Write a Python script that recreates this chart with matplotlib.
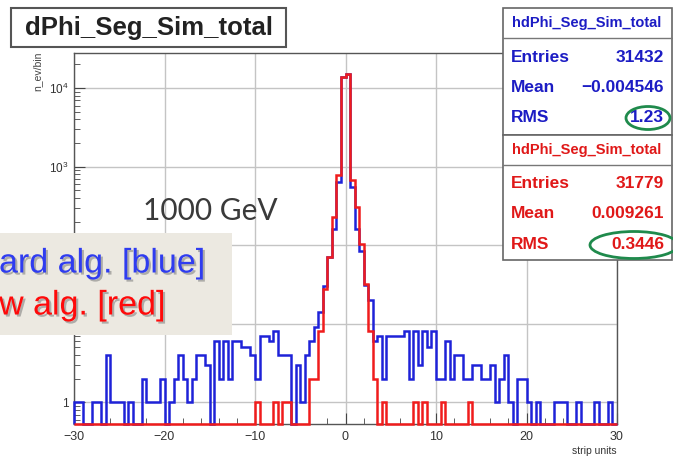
import numpy as np
import matplotlib
matplotlib.use("Agg")
import matplotlib.pyplot as plt
from matplotlib.patches import Rectangle, Ellipse
import matplotlib.patheffects as pe
from matplotlib.ticker import FixedLocator, FixedFormatter, NullFormatter

# ---- data -----------------------------------------------------------------
x_min, x_max, n_bins = -30.0, 30.0, 120

# standard algorithm (blue), counts per 0.5-strip bin from -30 to +30
blue_counts = [
    1, 1, 0, 0, 1, 1, 0, 4, 1, 1,
    1, 0, 1, 0, 0, 2, 1, 1, 1, 2,
    0, 1, 2, 4, 2, 1, 2, 4, 4, 3,
    0, 6, 2, 6, 2, 6, 6, 5, 5, 4,
    2, 7, 7, 6, 8, 4, 4, 4, 0, 3,
    1, 4, 6, 9, 14, 30, 70, 160, 640, 14000,
    15000, 550, 160, 85, 31, 20, 6, 7, 2, 7,
    7, 7, 7, 8, 2, 8, 3, 8, 5, 8,
    2, 2, 6, 2, 4, 4, 2, 2, 3, 3,
    2, 2, 3, 1, 2, 4, 1, 0, 2, 2,
    1, 0, 1, 0, 0, 0, 1, 1, 1, 0,
    0, 1, 0, 0, 0, 1, 0, 0, 1, 0,
]

# new algorithm (red)
red_counts = [
    0, 0, 0, 0, 0, 0, 0, 0, 0, 0,
    0, 0, 0, 0, 0, 0, 0, 0, 0, 0,
    0, 0, 0, 0, 0, 0, 0, 0, 0, 0,
    0, 0, 0, 0, 0, 0, 0, 0, 0, 0,
    1, 0, 0, 0, 1, 0, 1, 1, 0, 0,
    0, 0, 2, 2, 8, 28, 70, 230, 780, 14000,
    15200, 680, 310, 105, 32, 8, 2, 0, 1, 0,
    0, 0, 0, 0, 0, 1, 0, 1, 0, 0,
    0, 1, 0, 0, 0, 0, 0, 1, 0, 0,
    0, 0, 0, 0, 0, 0, 0, 0, 0, 0,
    0, 0, 0, 0, 0, 0, 0, 0, 0, 0,
    0, 0, 0, 0, 0, 0, 0, 0, 0, 0,
]

hist_name = "hdPhi_Seg_Sim_total"
title_text = "dPhi_Seg_Sim_total"
stat_labels = ["Entries", "Mean", "RMS"]
blue_stats = ["31432", "\u22120.004546", "1.23"]
red_stats = ["31779", "0.009261", "0.3446"]

x_ticks = [-30, -20, -10, 0, 10, 20, 30]
y_ticks = [1, 10, 100, 1000, 10000]
# the 10 and 10^2 labels sit under the legend panel
y_tick_labels = ["1", "", "", "$10^{3}$", "$10^{4}$"]

# ---- figure ---------------------------------------------------------------
plt.rcParams["font.family"] = ["Liberation Sans", "DejaVu Sans"]
plt.rcParams["mathtext.fontset"] = "custom"
plt.rcParams["mathtext.rm"] = "Liberation Sans"

W, H = 673, 459
fig = plt.figure(figsize=(W / 100, H / 100), dpi=100)
fig.patch.set_facecolor("white")


def fx(px):
    return px / W


def fy(py):
    return 1 - py / H


ax_l, ax_r, ax_t, ax_b = 74, 617, 53, 424
ax = fig.add_axes([fx(ax_l), fy(ax_b), (ax_r - ax_l) / W, (ax_b - ax_t) / H])

y_lo, y_hi = 0.53, 2.8e4
ax.set_xlim(x_min, x_max)
ax.set_yscale("log")
ax.set_ylim(y_lo, y_hi)

edges = np.linspace(x_min, x_max, n_bins + 1)
blue = np.clip(np.asarray(blue_counts, float), y_lo, None)
red = np.clip(np.asarray(red_counts, float), y_lo, None)
ax.stairs(blue, edges, baseline=y_lo, color="#1e22d8", lw=1.8, clip_on=False, zorder=3)
ax.stairs(red, edges, baseline=y_lo, color="#f01c1c", lw=1.8, clip_on=False, zorder=4)

# grid and frame
ax.grid(True, which="major", color="#c4c4c4", lw=1.0)
ax.set_axisbelow(True)
for s in ax.spines.values():
    s.set_color("#555555")
    s.set_linewidth(1.0)

ax.xaxis.set_major_locator(FixedLocator(x_ticks))
ax.xaxis.set_minor_locator(FixedLocator(np.arange(-30, 31, 2)))
ax.yaxis.set_major_locator(FixedLocator(y_ticks))
ax.yaxis.set_major_formatter(FixedFormatter(y_tick_labels))
minor_y = [m * 10 ** d for d in range(-1, 5) for m in range(2, 10)]
ax.yaxis.set_minor_locator(FixedLocator(minor_y))
ax.yaxis.set_minor_formatter(NullFormatter())
ax.tick_params(which="both", direction="in", colors="#444444", labelcolor="#333333",
               top=False, right=False)
ax.tick_params(axis="x", which="major", length=8, labelsize=9, pad=5)
ax.tick_params(axis="x", which="minor", length=4)
ax.tick_params(axis="y", which="major", length=8, labelsize=8.5, pad=4)
ax.tick_params(axis="y", which="minor", length=4.5)

# axis titles
fig.text(fx(ax_r), fy(446), "strip units", ha="right", va="top", fontsize=7.5, color="#333333")
fig.text(fx(37), fy(52), "n_ev/bin", rotation=90, ha="center", va="top", fontsize=7.5,
         color="#444444")

# histogram title box
fig.patches.append(Rectangle((fx(11), fy(47)), (286 - 11) / W, (47 - 8) / H,
                             transform=fig.transFigure, facecolor="white",
                             edgecolor="#555555", lw=1.5, zorder=5))
fig.text(fx(149), fy(28), title_text, ha="center", va="center", fontsize=18.5,
         fontweight="bold", color="#222222", zorder=6)

# energy label
fig.text(fx(143), fy(211), "1000 GeV", ha="left", va="center", fontsize=21.5,
         family=["Lato", "DejaVu Sans"], color="#3a3a3a", zorder=6)

# statistics boxes
def stats_box(top, bottom, sep, rows, values, color):
    fig.patches.append(Rectangle((fx(503), fy(bottom)), (672 - 503) / W, (bottom - top) / H,
                                 transform=fig.transFigure, facecolor="white",
                                 edgecolor="#666666", lw=1.2, zorder=5))
    fig.lines.append(plt.Line2D([fx(503), fx(672)], [fy(sep), fy(sep)],
                                transform=fig.transFigure, color="#777777", lw=1.0, zorder=6))
    fig.text(fx(587), fy((top + sep) / 2), hist_name, ha="center", va="center",
             fontsize=10.5, fontweight="bold", color=color, zorder=7)
    for py, lab, val in zip(rows, stat_labels, values):
        fig.text(fx(511), fy(py), lab, ha="left", va="center", fontsize=12.5,
                 fontweight="bold", color=color, zorder=7)
        fig.text(fx(664), fy(py), val, ha="right", va="center", fontsize=12.5,
                 fontweight="bold", color=color, zorder=7)


stats_box(8, 135, 38, [57, 88, 118], blue_stats, "#1c1cc4")
stats_box(135, 260, 165, [183, 213, 245], red_stats, "#e01818")

# highlight the RMS values
for cx, cy, w, h in [(648, 118, 44, 23), (634, 245, 88, 27)]:
    fig.patches.append(Ellipse((fx(cx), fy(cy)), w / W, h / H, transform=fig.transFigure,
                               facecolor="none", edgecolor="#1f8a4c", lw=2.0, zorder=8))

# legend panel
fig.patches.append(Rectangle((0, fy(335)), 232 / W, (335 - 233) / H,
                             transform=fig.transFigure, facecolor="#ece9e1",
                             edgecolor="none", zorder=5))
shadow = [pe.SimplePatchShadow(offset=(1.5, -1.5), shadow_rgbFace="#7a7a7a", alpha=0.55),
          pe.Normal()]
fig.text(fx(-1), fy(264), "ard alg. [blue]", ha="left", va="center", fontsize=24.5,
         color="#2f3cf0", zorder=6, path_effects=shadow)
fig.text(fx(-1), fy(306), "w alg. [red]", ha="left", va="center", fontsize=24.5,
         color="#ff0a0a", zorder=6, path_effects=shadow)

fig.savefig("out.png", dpi=100, facecolor="white")
